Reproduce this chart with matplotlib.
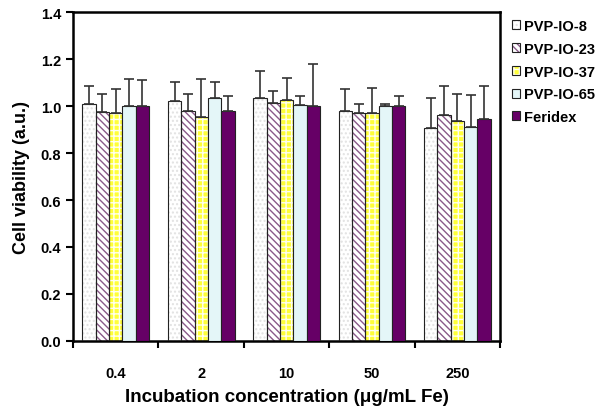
import numpy as np
import matplotlib
matplotlib.use("Agg")
import matplotlib.pyplot as plt
from matplotlib.patches import Patch

plt.rcParams['font.family'] = ['Liberation Sans', 'DejaVu Sans']
plt.rcParams['font.weight'] = 'bold'
plt.rcParams['hatch.linewidth'] = 1.0

concentrations = ['0.4', '2', '10', '50', '250']
series = ['PVP-IO-8', 'PVP-IO-23', 'PVP-IO-37', 'PVP-IO-65', 'Feridex']

viability = {
    'PVP-IO-8':  [1.007, 1.021, 1.033, 0.977, 0.906],
    'PVP-IO-23': [0.974, 0.980, 1.013, 0.970, 0.960],
    'PVP-IO-37': [0.972, 0.955, 1.027, 0.972, 0.936],
    'PVP-IO-65': [1.001, 1.034, 1.004, 0.999, 0.909],
    'Feridex':   [1.001, 0.977, 1.001, 1.001, 0.943],
}
errors = {
    'PVP-IO-8':  [0.080, 0.080, 0.115, 0.095, 0.128],
    'PVP-IO-23': [0.078, 0.070, 0.052, 0.040, 0.124],
    'PVP-IO-37': [0.100, 0.160, 0.092, 0.103, 0.115],
    'PVP-IO-65': [0.115, 0.070, 0.040, 0.010, 0.139],
    'Feridex':   [0.110, 0.064, 0.178, 0.043, 0.141],
}

# face, hatch, hatch colour
styles = {
    'PVP-IO-8':  ('white', '....', '#e2e2e2'),
    'PVP-IO-23': ('white', '\\\\\\\\\\', '#8a5a8a'),
    'PVP-IO-37': ('#ffff38', '+++', '#fffff0'),
    'PVP-IO-65': ('#e4f6f8', None, None),
    'Feridex':   ('#660066', None, None),
}

fig = plt.figure(figsize=(6.04, 4.10), dpi=100)
ax = fig.add_axes([0.121, 0.166, 0.707, 0.802])

x = np.arange(len(concentrations))
w = 0.156
handles = []
for i, s in enumerate(series):
    pos = x + (i - 2) * w
    face, hatch, hcol = styles[s]
    if hatch:
        ax.bar(pos, viability[s], w, color=face, hatch=hatch, edgecolor=hcol, linewidth=0, zorder=2)
        ax.bar(pos, viability[s], w, fill=False, edgecolor='#222222', linewidth=0.8, zorder=3)
        h = (Patch(facecolor=face, edgecolor=hcol, hatch=hatch, linewidth=0),
             Patch(fill=False, edgecolor='#222222', linewidth=0.8))
    else:
        ax.bar(pos, viability[s], w, color=face, edgecolor='#222222', linewidth=0.8, zorder=3)
        h = Patch(facecolor=face, edgecolor='#222222', linewidth=0.8)
    ax.errorbar(pos, viability[s], yerr=[np.zeros(len(x)), errors[s]], fmt='none',
                ecolor='#333333', elinewidth=1.2, capsize=3.5, capthick=1.2, zorder=4)
    handles.append(h)

ax.set_ylim(0, 1.4)
ax.set_xlim(-0.5, len(x) - 0.5)
yt = np.arange(0, 1.41, 0.2)
ax.set_yticks(yt)
ax.set_yticklabels([f'{v:.1f}' for v in yt], fontsize=10.5, fontweight='bold')
ax.set_xticks(np.arange(-0.5, len(x)), labels=[])
ax.set_xticks(x, labels=concentrations, minor=True, fontsize=10.5, fontweight='bold')
ax.tick_params(axis='x', which='minor', length=0, pad=18)
ax.tick_params(axis='both', which='major', direction='out', length=5, width=1.5)
for sp in ax.spines.values():
    sp.set_linewidth(1.8)

ax.set_ylabel('Cell viability (a.u.)', fontsize=13, fontweight='bold', labelpad=8)
ax.set_xlabel('Incubation concentration (\u03bcg/mL Fe)', fontsize=13.5, fontweight='bold', labelpad=6)

leg = ax.legend(handles, series, loc='upper left', bbox_to_anchor=(1.005, 1.01), frameon=False,
                prop={'size': 10.5, 'weight': 'bold'}, handlelength=0.55, handleheight=0.55,
                handletextpad=0.25, labelspacing=0.6, borderaxespad=0.3)

fig.savefig('out.png', dpi=100)
